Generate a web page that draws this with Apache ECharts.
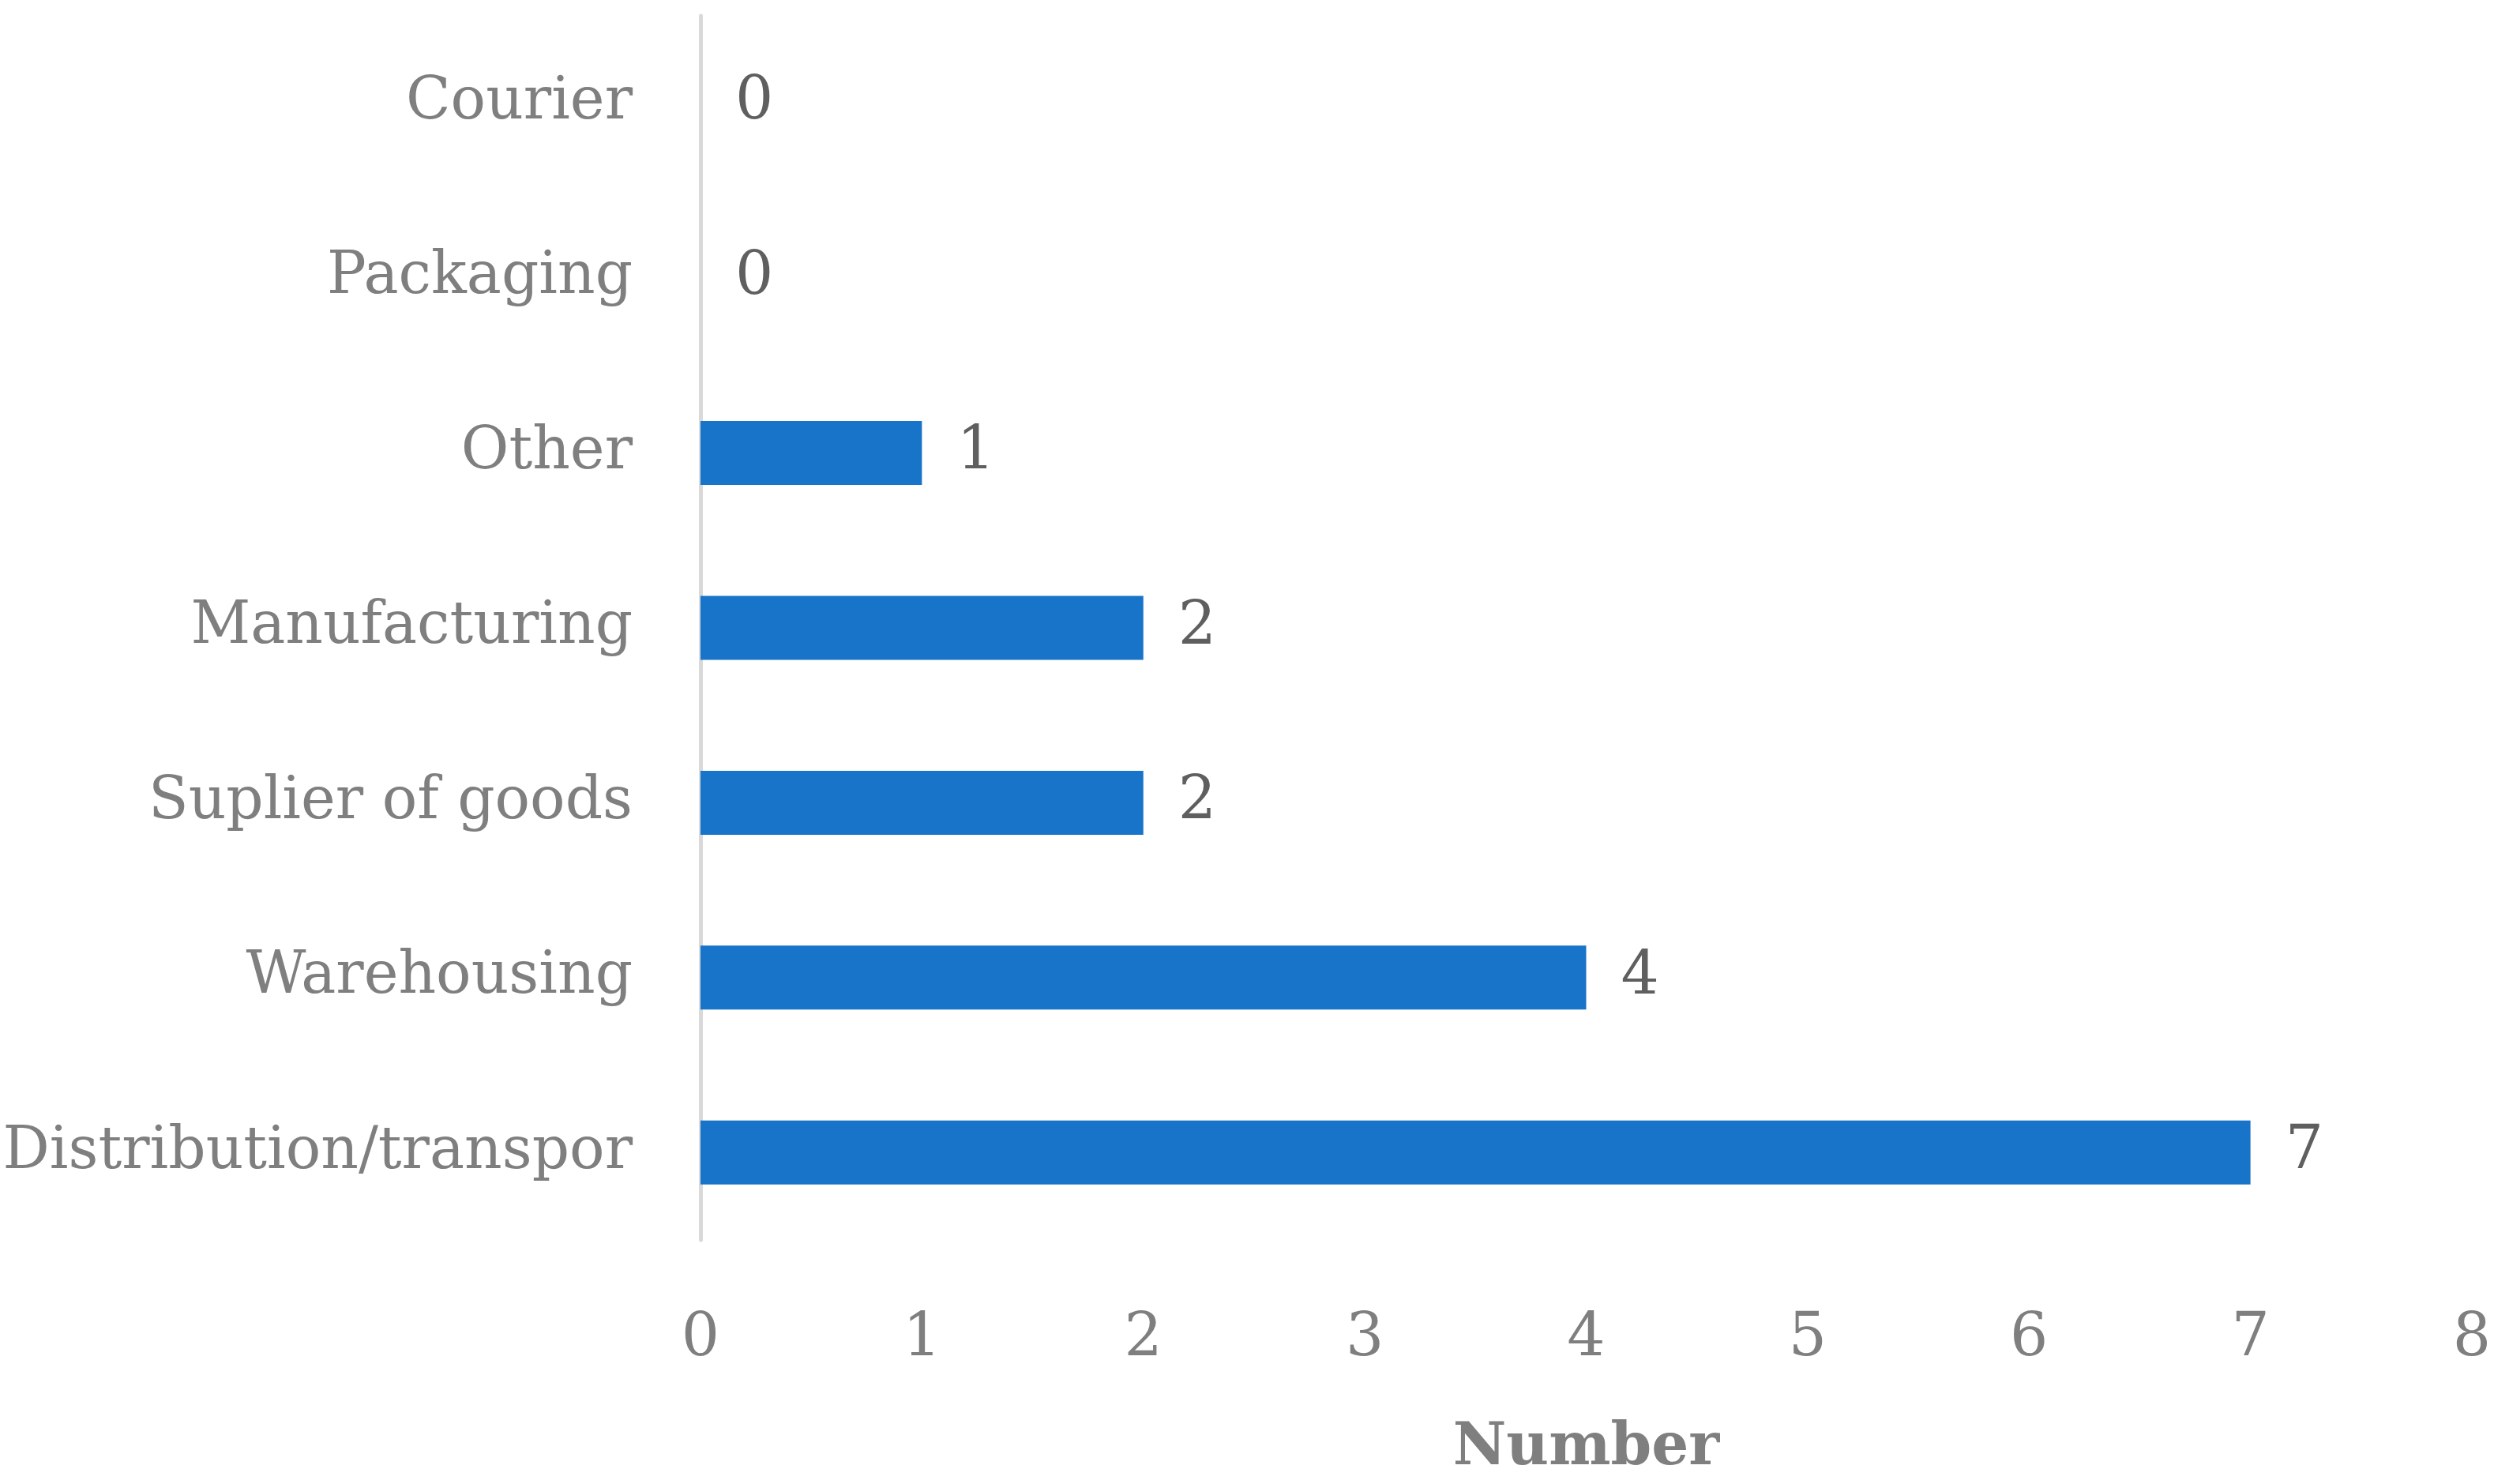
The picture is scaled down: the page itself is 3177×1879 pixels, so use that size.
<!DOCTYPE html>
<html>
<head>
<meta charset="utf-8">
<script src="https://cdn.jsdelivr.net/npm/echarts@6/dist/echarts.min.js"></script>
<style>html,body{margin:0;padding:0;background:#fff;}#c{width:3177px;height:1879px;}</style>
</head>
<body>
<div id="c"></div>
<script>
const categories = ["Distribution/transpor", "Warehousing", "Suplier of goods", "Manufacturing", "Other", "Packaging", "Courier"];
const values = [7, 4, 2, 2, 1, 0, 0];
const xTicks = [0, 1, 2, 3, 4, 5, 6, 7, 8];
const xAxisTitle = "Number";

const FONT = '"DejaVu Serif", "Liberation Serif", serif';
const chart = echarts.init(document.getElementById('c'), null, {renderer: 'canvas'});
chart.setOption({
  animation: false,
  backgroundColor: '#ffffff',
  grid: {left: 887, right: 47, top: 20, bottom: 309, containLabel: false},
  xAxis: {
    type: 'value',
    min: xTicks[0],
    max: xTicks[xTicks.length - 1],
    interval: 1,
    name: xAxisTitle,
    nameLocation: 'middle',
    nameGap: 228,
    nameTextStyle: {fontFamily: FONT, fontSize: 74, fontWeight: 'bold', color: '#7F7F7F'},
    axisLine: {show: false},
    axisTick: {show: false},
    splitLine: {show: false},
    axisLabel: {fontFamily: FONT, fontSize: 76, color: '#7F7F7F', margin: 88}
  },
  yAxis: {
    type: 'category',
    data: categories,
    axisLine: {show: true, lineStyle: {color: '#D9D9D9', width: 5}},
    axisTick: {show: false},
    axisLabel: {fontFamily: FONT, fontSize: 74, color: '#7F7F7F', margin: 86, padding: [10, 0, 0, 0]}
  },
  series: [{
    type: 'bar',
    data: values,
    barWidth: 81,
    itemStyle: {color: '#1874C8'},
    label: {show: true, position: 'right', distance: 44, fontFamily: FONT, fontSize: 76, color: '#5F5F5F', padding: [12, 0, 0, 0]}
  }]
});
</script>
</body>
</html>
